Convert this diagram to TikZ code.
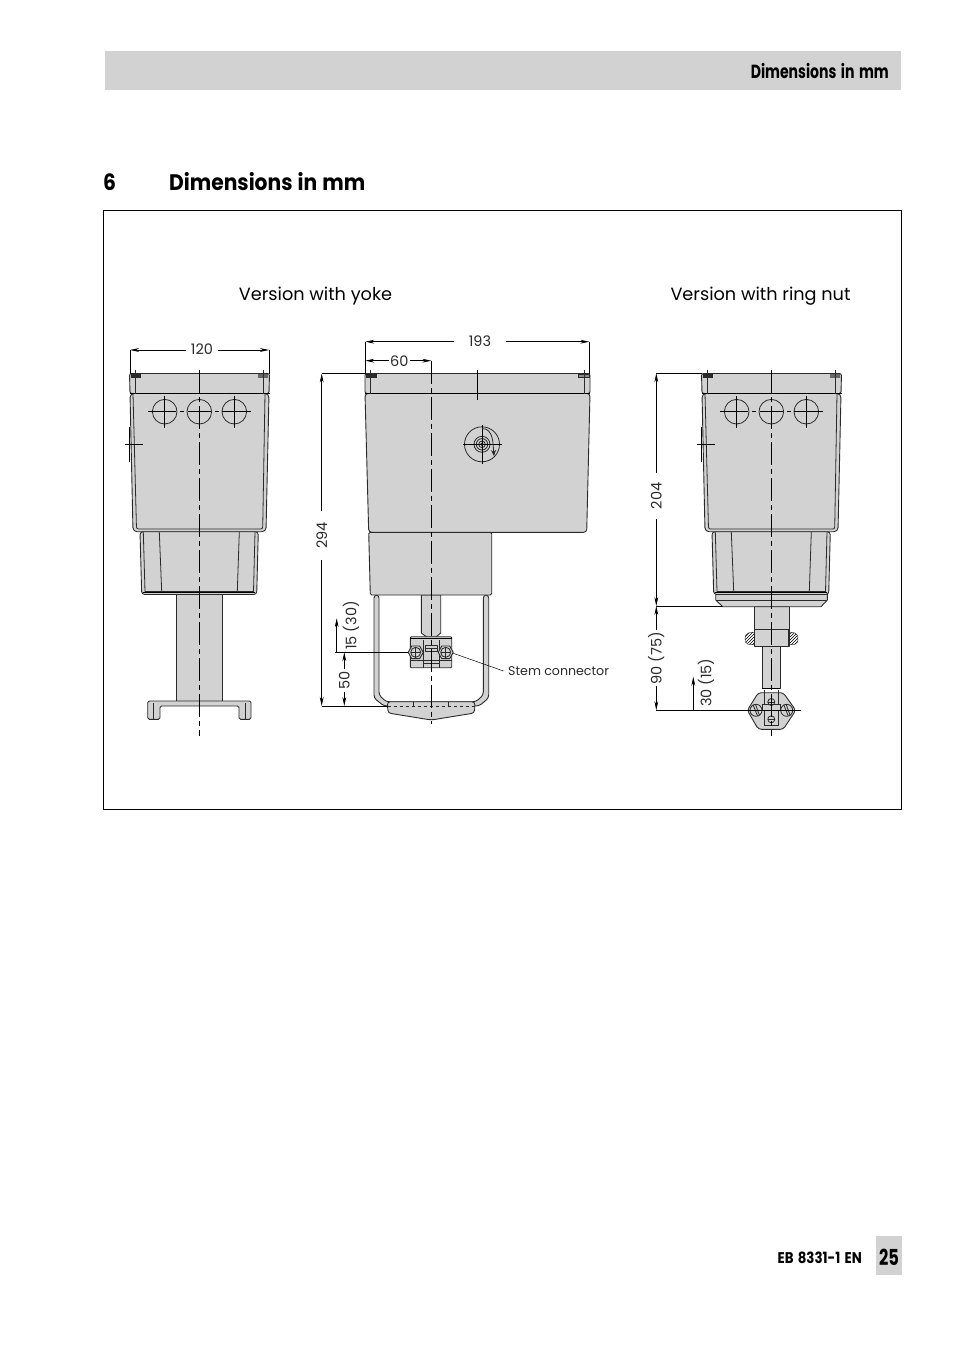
\documentclass[tikz,border=0pt]{standalone}
\usepackage{fontspec}
\usepackage{tikz}
\usetikzlibrary{arrows.meta,patterns}
\setmainfont{Poppins}
\newfontfamily\condfont[FakeStretch=0.74,WordSpace=1.5]{Poppins}
\newfontfamily\footfont[FakeStretch=0.86,WordSpace=1.5]{Poppins}
\newfontfamily\titlefont[FakeStretch=0.9,WordSpace=1.2]{Poppins}
\definecolor{partgray}{HTML}{D2D2D2}
\definecolor{inkgray}{HTML}{2A2A2A}
\tikzset{
    part/.style={draw=inkgray,fill=partgray,line width=0.9pt,line join=round},
    detail/.style={draw=inkgray,line width=0.8pt},
    axis/.style={draw=black,line width=0.7pt,dash pattern=on 23pt off 4pt on 5pt off 4pt},
    extline/.style={draw=black,line width=0.7pt},
    dimline/.style={draw=black,line width=0.7pt,-{Stealth[length=9pt,width=3.8pt]}},
    dimtext/.style={font=\fontsize{14.5}{16}\selectfont,text=inkgray,inner xsep=5pt,inner ysep=0pt},
    viewtitle/.style={font=\fontsize{17.7}{20}\selectfont,text=black,inner sep=0pt},
    headview/.pic={
        \path[part,rounded corners=2pt] (130,393.5) -- (129.5,373.5) -- (269.5,373.5) -- (269,393.5) -- cycle;
        \path[part,rounded corners=4pt] (130,393.5) -- (133,531.7) -- (266,531.7) -- (269,393.5) -- cycle;
        \draw[detail,rounded corners=2pt] (133,393.5) -- (136.5,529) -- (262.7,529) -- (265,393.5);
        \draw[black,line width=1.3pt] (129.5,393.5) -- (269.5,393.5);
        \path[fill=inkgray] (131,374) rectangle (141,377.5);
        \path[fill=black!60] (258,374) rectangle (268,377.5);
        \draw[detail] (135.5,370) -- (135.5,393.5) (263.5,370) -- (263.5,393.5);
        \foreach \cx in {164.7,199.3,234.3} {
            \draw[detail] (\cx,411.7) circle[radius=12.3];
        }
        \draw[extline] (148,411.7) -- (176,411.7) (180,411.7) -- (184,411.7) (188,411.7) -- (210.5,411.7) (215,411.7) -- (219,411.7) (222,411.7) -- (251,411.7);
        \draw[extline] (164.7,395.5) -- (164.7,427.7) (234.3,395.5) -- (234.3,427.7);
        \draw[extline] (129.3,426.7) -- (129.3,461.7) (125,444.3) -- (143,444.3);
        \path[part,rounded corners=3pt] (140,531.7) -- (141.7,594.5) -- (256.7,594.5) -- (258.3,531.7) -- cycle;
        \draw[detail] (143.3,532) -- (145,591.5) -- (253.5,591.5) -- (255,532);
        \draw[detail] (159.3,532) -- (161.7,591.5) (239.3,532) -- (237.3,591.5);
        \draw[black,line width=1pt] (143,592.5) -- (255,592.5);
    }
}

\begin{document}
\begin{tikzpicture}[x=1pt,y=-1pt]
    \useasboundingbox (0,0) rectangle (954,1352);

    \fill[partgray] (105,51) rectangle (901,90);
    \fill[partgray] (876,1236) rectangle (902,1275);
    \node[anchor=east,inner sep=0pt,font=\condfont\bfseries\fontsize{19}{20}\selectfont] (runninghead) at (889,71) {Dimensions in mm};
    \node[anchor=east,inner sep=0pt,font=\footfont\bfseries\fontsize{15.5}{17}\selectfont] (docnumber) at (862,1258) {EB 8331-1 EN};
    \node[inner sep=0pt,font=\condfont\bfseries\fontsize{22}{24}\selectfont] (pagenumber) at (889,1257) {25};
    \node[anchor=base west,inner sep=0pt,font=\titlefont\bfseries\fontsize{22.5}{24}\selectfont] (chapternumber) at (103,190) {6};
    \node[anchor=base west,inner sep=0pt,font=\titlefont\bfseries\fontsize{22.5}{24}\selectfont] (chaptertitle) at (169,190) {Dimensions in mm};
    \draw[line width=0.7pt] (103.5,210.5) rectangle (901.5,809.5);

    \node[viewtitle,anchor=base] (yoketitle) at (315.5,300) {Version with yoke};
    \node[viewtitle,anchor=base] (nuttitle) at (760.5,300) {Version with ring nut};

    % left view
    \path[part] (176.7,594.5) rectangle (222.3,701);
    \path[part,rounded corners=1.5pt] (147.7,719.3) -- (147.7,701) -- (251,701) -- (251,719.3) -- (239,719.3) -- (239,706) -- (160,706) -- (160,719.3) -- cycle;
    \draw[detail] (153.3,703) -- (153.3,719.3) (245,703) -- (245,719.3);
    \pic at (0,0) {headview};
    \draw[axis] (199.3,370) -- (199.3,736);
    \coordinate (w1) at (130,350);
    \coordinate (w2) at (269,350);
    \node[dimtext] (width) at (202,350) {\raisebox{1pt}{120}};
    \draw[dimline] (width) -- (w1);
    \draw[dimline] (width) -- (w2);
    \draw[extline] (w1) -- (130,374) (w2) -- (269,374);

    % middle view
    \path[part,rounded corners=3pt] (374,595) -- (374,698) -- (384,706) -- (479,706) -- (488.7,698) -- (488.7,595) -- (483.3,595) -- (483.3,695) -- (476,701.7) -- (386,701.7) -- (379,695) -- (379,595) -- cycle;
    \path[part] (421.3,595) -- (421.3,633) -- (426.7,637) -- (436,637) -- (440.7,633) -- (440.7,595) -- cycle;
    \path[part,rounded corners=1pt] (410.3,636.7) rectangle (451.7,667.7);
    \draw[black,line width=1pt] (410.3,638.5) -- (451.7,638.5);
    \draw[detail] (410.3,660) -- (451.7,660) (423,640) -- (423,667.7) (439,640) -- (439,667.7) (423,663.5) -- (439,663.5);
    \path[part] (425.5,645) rectangle (437,651);
    \draw[detail] (425.5,648) -- (437,648);
    \foreach \sx in {415.7,445.7} {
        \path[part] (\sx-7.5,652.3) -- (\sx-4,646) -- (\sx+4,646) -- (\sx+7.5,652.3) -- (\sx+4,658.6) -- (\sx-4,658.6) -- cycle;
        \draw[detail,fill=partgray] (\sx,652.3) circle[radius=5];
        \draw[detail] (\sx-5,652.3) -- (\sx+5,652.3) (\sx,647) -- (\sx,657.6);
    }
    \path[part,rounded corners=3pt] (387.3,701.7) -- (388,713) -- (431.3,720) -- (474.5,713) -- (475,701.7) -- cycle;
    \draw[detail,dashed] (388,706) -- (475,706);
    \draw[detail] (413.3,701.7) -- (413.3,706) (448.7,701.7) -- (448.7,706);
    \path[part,rounded corners=1.5pt] (368.7,532.3) -- (370.3,595) -- (491.7,595) -- (491.7,532.3) -- cycle;
    \path[part,rounded corners=2pt] (365,393.5) -- (365,373.5) -- (590,373.5) -- (590,393.5) -- cycle;
    \path[part,rounded corners=3pt] (365,393.5) -- (368.7,532.3) -- (586.7,532.3) -- (590,393.5) -- cycle;
    \draw[black,line width=1.3pt] (365,393.5) -- (590,393.5);
    \path[fill=inkgray] (366,374) rectangle (376.7,378);
    \draw[detail,fill=black!45] (578.7,374.5) rectangle (589,377.5);
    \draw[detail] (370.3,370) -- (370.3,393.5) (584.3,370) -- (584.3,393.5);
    \draw[extline] (477.3,370) -- (477.3,400);
    \draw[detail] (482,444.3) circle[radius=17.5] circle[radius=8] circle[radius=5.7] circle[radius=3.3] circle[radius=1.3];
    \draw[extline] (463,444.3) -- (501.5,444.3) (482,425) -- (482,463.5);
    \draw[detail,-{Stealth[length=6pt,width=5pt]}] (482,428.5) to[out=0,in=95] (494,456);
    \draw[axis] (431.3,360.7) -- (431.3,724);
    \coordinate (l1) at (365.3,341.7);
    \coordinate (l2) at (589.3,341.7);
    \coordinate (o2) at (431.3,360.7);
    \coordinate (o1) at (365.3,360.7);
    \node[dimtext,inner xsep=15pt] (length) at (480,341.7) {\raisebox{1.5pt}{193}};
    \node[dimtext,inner xsep=1pt] (offset) at (399.3,360.7) {60};
    \draw[dimline] (length) -- (l1);
    \draw[dimline] (length) -- (l2);
    \draw[dimline] (offset) -- (o1);
    \draw[dimline] (offset) -- (o2);
    \draw[extline] (l1) -- (365.3,374) (l2) -- (589.3,374);
    \coordinate (h1) at (321.7,373.5);
    \coordinate (h2) at (321.7,706);
    \node[dimtext,rotate=90,inner xsep=11pt] (height) at (321.7,535.5) {294};
    \draw[dimline] (height) -- (h1);
    \draw[dimline] (height) -- (h2);
    \draw[extline] (h1) -- (365,373.5) (h2) -- (388,706);
    \coordinate (s1) at (344.3,652.3);
    \coordinate (s2) at (344.3,706);
    \coordinate (s3) at (336.7,618.3);
    \coordinate (s4) at (336.7,652.3);
    \node[dimtext,rotate=90,inner xsep=2pt] (stemheight) at (344.3,680.5) {50};
    \draw[dimline] (stemheight) -- (s1);
    \draw[dimline] (stemheight) -- (s2);
    \draw[dimline] (s4) -- (s3);
    \draw[extline] (335,652.3) -- (408,652.3);
    \node[dimtext,rotate=90,inner xsep=0pt] (stroke) at (351,625.5) {15 (30)};
    \node[font=\fontsize{12.6}{15}\selectfont,text=inkgray,anchor=west,inner xsep=4.5pt,inner ysep=0pt] (stemlabel) at (503.5,671) {Stem connector};
    \coordinate (s5) at (453.3,653.3);
    \draw[extline,line width=0.5pt] (s5) -- (stemlabel.west);

    % right view
    \path[part] (754.7,606.7) rectangle (789,629.3);
    \path[draw=inkgray,pattern=north east lines,rounded corners=2pt] (754.7,631.7) -- (746,633.5) -- (744.7,639) -- (746,644) -- (754.7,645) -- cycle;
    \path[draw=inkgray,pattern=north east lines,rounded corners=2pt] (789,631.7) -- (797,633.5) -- (798.3,639) -- (797,644) -- (789,645) -- cycle;
    \path[part,line width=1.1pt] (754.7,629.3) rectangle (789,646.7);
    \path[part] (762.3,646.7) rectangle (780.3,688.3);
    \draw[black,line width=1pt] (762.3,688.3) -- (780.3,688.3);
    \path[part,rounded corners=3pt] (747.3,710.3) -- (758.3,692.7) -- (783.3,692.7) -- (795.7,710.3) -- (783.3,729.3) -- (758.3,729.3) -- cycle;
    \draw[detail] (764.3,690) -- (764.3,704) (778.3,690) -- (778.3,704);
    \draw[detail] (762,704) rectangle (780,710);
    \draw[detail] (764.3,710) rectangle (778.3,725.3);
    \foreach \sx/\sy in {771.3/702,771.3/719.3} {
        \draw[detail] (\sx,\sy) circle[radius=3.5];
        \draw[detail] (\sx-3.5,\sy) -- (\sx+3.5,\sy);
    }
    \foreach \sx in {756,786.7} {
        \draw[detail,fill=partgray] (\sx,710.3) circle[radius=6];
        \draw[detail] (\sx-3,704.7) -- (\sx+1.5,715.8) (\sx-0.5,704.5) -- (\sx+3.5,715.5);
    }
    \path[part] (715.7,593.3) -- (715.7,600) -- (722.7,606.7) -- (821,606.7) -- (827.3,600) -- (827.3,593.3) -- cycle;
    \draw[detail] (716,600) -- (827,600);
    \pic at (572,0) {headview};
    \draw[axis] (771.3,370) -- (771.3,735.7);
    \draw[extline] (747.3,710.3) -- (800.7,710.3);
    \coordinate (t1) at (656.3,373.3);
    \coordinate (t2) at (656.3,606);
    \coordinate (t3) at (656.3,710.3);
    \coordinate (t4) at (693.3,676.7);
    \coordinate (t5) at (693.3,710.3);
    \node[dimtext,rotate=90,inner xsep=10pt] (upperheight) at (656.3,496) {204};
    \node[dimtext,rotate=90,inner xsep=2pt] (lowerheight) at (656.3,658) {90 (75)};
    \draw[dimline] (upperheight) -- (t1);
    \draw[dimline] (upperheight) -- (t2);
    \draw[dimline] (lowerheight) -- (t2);
    \draw[dimline] (lowerheight) -- (t3);
    \draw[dimline] (t5) -- (t4);
    \draw[extline] (t1) -- (702,373.3) (t2) -- (722,606) (t3) -- (747.3,710.3);
    \node[dimtext,rotate=90,inner xsep=0pt] (nutstroke) at (706,682.7) {30 (15)};
\end{tikzpicture}
\end{document}
